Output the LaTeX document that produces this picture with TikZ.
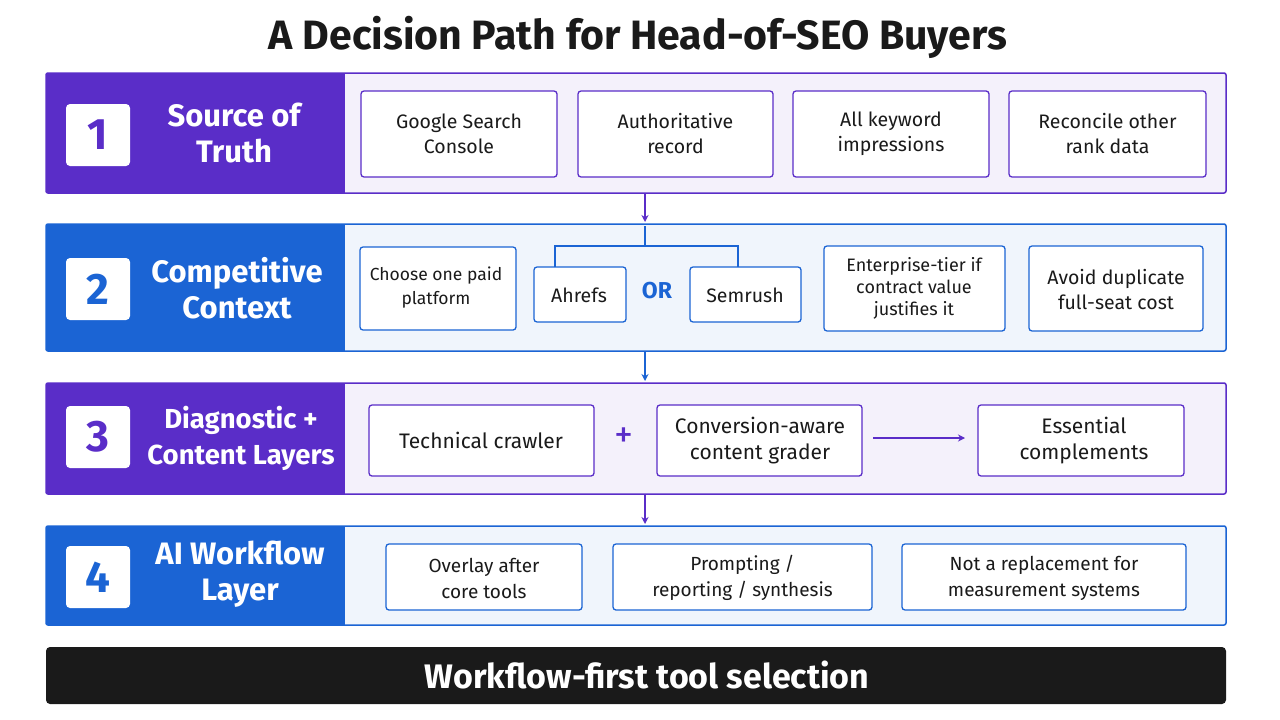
\documentclass[tikz,border=0pt]{standalone}
\usepackage{fontspec}
\setmainfont{Fira Sans}
\usetikzlibrary{arrows.meta}
\definecolor{pur}{HTML}{5A2DC8}
\definecolor{blu}{HTML}{1B64D4}
\definecolor{pbg}{HTML}{F4F1FB}
\definecolor{bbg}{HTML}{F0F5FC}
\definecolor{ink}{HTML}{1A1A1A}
\tikzset{x=1pt,y=-1pt,
 band/.style={draw=#1,line width=1.5pt,rounded corners=2pt},
 item/.style={draw=#1,line width=1.3pt,rounded corners=3pt,fill=white},
 itxt/.style={text=ink,font=\fontsize{19.5}{25}\selectfont,align=center},
 num/.style={fill=white,rounded corners=4pt,minimum width=64pt,minimum height=62pt,text=#1,font=\fontsize{44}{44}\selectfont\bfseries},
 ttl/.style={text=white,font=\fontsize{31}{36}\selectfont\bfseries,align=center},
 arr/.style={draw=#1,line width=1.6pt,-{Stealth[length=7pt,width=7pt]}}}
\begin{document}
\begin{tikzpicture}
\useasboundingbox[fill=white] (0,0) rectangle (1280,720);
\node[font=\fontsize{41}{44}\selectfont\bfseries,text=ink] (title) at (638,37) {A Decision Path for Head-of-SEO Buyers};
% band 1
\draw[band=pur,fill=pbg] (46,73) rectangle (1226,193);
\fill[pur] (46,73) rectangle (345,193);
\node[num=pur] (n1) at (98,135) {1};
\node[ttl] (t1) at (234,133) {Source of\\Truth};
\foreach \a/\b/\t [count=\i] in {361/557/{Google Search\\Console},578/773/{Authoritative\\record},793/989/{All keyword\\impressions},1009/1206/{Reconcile other\\rank data}}{
 \draw[item=pur] (\a,91) rectangle (\b,177);
 \node[itxt] (b1\i) at ({(\a+\b)/2},134) {\t};}
% band 2
\draw[band=blu,fill=bbg] (46,224) rectangle (1226,351);
\fill[blu] (46,224) rectangle (345,351);
\node[num=blu] (n2) at (98,289) {2};
\node[ttl] (t2) at (237,288) {Competitive\\Context};
\draw[item=blu] (360,247) rectangle (516,330); \node[itxt,font=\fontsize{17.5}{24}\selectfont] (c1) at (436,288) {Choose one paid\\platform};
\draw[item=blu] (534,267) rectangle (626,322); \node[itxt] (c2) at (579,295) {Ahrefs};
\node[text=blu,font=\fontsize{23}{23}\selectfont\bfseries] (or) at (657,291) {OR};
\draw[item=blu] (690,267) rectangle (801,322); \node[itxt] (c3) at (745,295) {Semrush};
\draw[blu,line width=1.5pt] (645,226) -- (645,246) (555,267) -- (555,246) -- (738,246) -- (738,267);
\draw[item=blu] (824,246) rectangle (1005,331); \node[itxt,font=\fontsize{18}{22}\selectfont] (c4) at (914,288) {Enterprise-tier if\\contract value\\justifies it};
\draw[item=blu] (1029,246) rectangle (1203,331); \node[itxt] (c5) at (1116,290) {Avoid duplicate\\full-seat cost};
% band 3
\draw[band=pur,fill=pbg] (46,383) rectangle (1226,494);
\fill[pur] (46,383) rectangle (345,494);
\node[num=pur] (n3) at (98,437) {3};
\node[ttl,font=\fontsize{27.5}{36}\selectfont\bfseries] (t3) at (241,438) {Diagnostic +\\Content Layers};
\draw[item=pur] (369,405) rectangle (594,476); \node[itxt,font=\fontsize{21}{26}\selectfont] (d1) at (481,440) {Technical crawler};
\node[text=pur,font=\fontsize{38}{38}\selectfont] (plus) at (624,438) {+};
\draw[item=pur] (657,405) rectangle (862,476); \node[itxt,font=\fontsize{21}{26}\selectfont] (d2) at (760,441) {Conversion-aware\\content grader};
\draw[item=pur] (978,405) rectangle (1184,476); \node[itxt,font=\fontsize{21}{26}\selectfont] (d3) at (1084,441) {Essential\\complements};
\coordinate (aa) at (873,438); \coordinate (ab) at (965,438);
\draw[arr=pur] (aa) -- (ab);
% band 4
\draw[band=blu,fill=bbg] (46,526) rectangle (1226,625);
\fill[blu] (46,526) rectangle (345,625);
\node[num=blu] (n4) at (98,577) {4};
\node[ttl] (t4) at (240,574) {AI Workflow\\Layer};
\foreach \a/\b/\t [count=\i] in {386/582/{Overlay after\\core tools},613/872/{Prompting /\\reporting / synthesis},902/1186/{Not a replacement for\\measurement systems}}{
 \draw[item=blu] (\a,544) rectangle (\b,610);
 \node[itxt,font=\fontsize{19}{26}\selectfont] (e\i) at ({(\a+\b)/2},578) {\t};}
% arrows between bands
\coordinate (p1) at (645,193); \coordinate (p2) at (645,222);
\draw[arr=pur] (p1) -- (p2);
\coordinate (q1) at (645,351); \coordinate (q2) at (645,381);
\draw[arr=blu] (q1) -- (q2);
\coordinate (r1) at (645,494); \coordinate (r2) at (645,524);
\draw[arr=pur] (r1) -- (r2);
% footer
\fill[ink,rounded corners=4pt] (46,647) rectangle (1226,704);
\node[text=white,font=\fontsize{34}{36}\selectfont\bfseries] (foot) at (647,675) {Workflow-first tool selection};
\end{tikzpicture}
\end{document}
